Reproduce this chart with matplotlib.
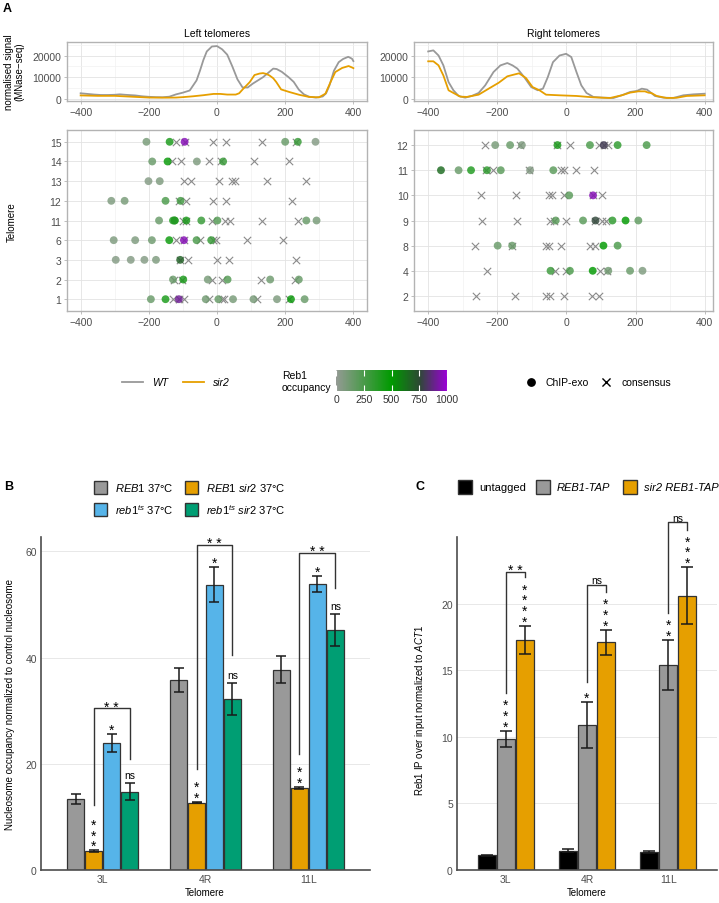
import matplotlib
matplotlib.use('Agg')
import matplotlib.pyplot as plt
import numpy as np
from matplotlib.colors import LinearSegmentedColormap, Normalize
from matplotlib.patches import Rectangle
import matplotlib.cm as cm

plt.rcParams['font.family'] = ['Liberation Sans', 'DejaVu Sans']
plt.rcParams['mathtext.fontset'] = 'custom'
plt.rcParams['mathtext.it'] = 'Liberation Sans:italic'
plt.rcParams['mathtext.rm'] = 'Liberation Sans'
plt.rcParams['mathtext.bf'] = 'Liberation Sans:bold'

# ---------------- DATA ----------------
# Panel A, MNase-seq profiles
left_wt_x = [-400, -380, -360, -340, -320, -300, -285, -270, -240, -220, -200, -180, -160, -140, -120, -100, -80,
             -60, -50, -40, -30, -15, 0, 15, 30, 45, 60, 75, 90, 105, 120, 135, 150, 165, 175, 190, 210, 225,
             240, 255, 270, 290, 310, 320, 330, 343, 357, 370, 385, 396, 400]
left_wt_y = [2500, 2200, 1900, 1700, 1700, 1800, 2000, 1800, 1500, 1100, 850, 700, 650, 900, 2000, 2800, 3800,
             8500, 13000, 18000, 22000, 24300, 24500, 23000, 20500, 15000, 9000, 5200, 5200, 7000, 8500, 10000,
             12000, 14000, 13800, 12500, 10000, 7800, 4200, 2000, 900, 500, 1000, 2500, 6200, 13000, 17000,
             18500, 19500, 18600, 17500]
left_sir2_x = [-400, -350, -300, -250, -200, -150, -120, -100, -70, -40, -10, 10, 30, 55, 65, 77, 96, 110, 125,
               135, 145, 154, 165, 174, 188, 212, 241, 270, 299, 318, 333, 347, 367, 386, 398, 400]
left_sir2_y = [1500, 1300, 1300, 900, 500, 450, 500, 700, 1100, 1600, 2200, 2200, 1900, 1900, 2500, 4600, 7700,
               11000, 11700, 11900, 11500, 10800, 9500, 7700, 4300, 3100, 1800, 800, 600, 2300, 7700, 12400,
               14300, 15200, 14400, 14200]
right_wt_x = [-400, -385, -370, -356, -341, -327, -312, -293, -274, -254, -235, -211, -191, -171, -156, -142,
              -122, -102, -83, -68, -54, -39, -20, -1, 14, 29, 43, 58, 78, 107, 136, 165, 184, 204, 218, 233,
              242, 256, 280, 309, 338, 367, 400]
right_wt_y = [22000, 22500, 20100, 15500, 7700, 3900, 1250, 460, 1250, 2650, 6200, 12400, 15500, 16600, 15500,
              14000, 10000, 5400, 3900, 4650, 10000, 17000, 20100, 20900, 19400, 12400, 6200, 2650, 780, 460,
              300, 1850, 3100, 3600, 4650, 4200, 3100, 1250, 460, 300, 1550, 2000, 2300]
right_sir2_x = [-400, -385, -370, -356, -341, -327, -307, -288, -254, -225, -196, -171, -152, -137, -117, -98,
                -78, -59, -20, 29, 78, 126, 160, 184, 208, 227, 237, 246, 261, 290, 319, 348, 400]
right_sir2_y = [17400, 17400, 15500, 10800, 3900, 2650, 930, 800, 1850, 4650, 7400, 10400, 11200, 11800, 9600,
                5400, 3900, 1850, 1550, 1250, 600, 300, 1550, 2800, 3400, 3400, 2800, 2600, 1250, 300, 400, 1250,
                1550]

# Panel A, Reb1 sites (left telomeres)
left_rows = ['1', '2', '3', '6', '11', '12', '13', '14', '15']
left_chip_tel = (['15'] * 6 + ['14'] * 4 + ['13'] * 2 + ['12'] * 4 + ['11'] * 9 + ['6'] * 7 + ['3'] * 5 +
                 ['2'] * 6 + ['1'] * 10)
left_chip_pos = [-207, -139, -95, 200, 237, 289,
                 -190, -145, -59, 18,
                 -201, -168,
                 -310, -271, -151, -107,
                 -170, -129, -124, -90, -46, 1, 262, 292, -124,
                 -303, -240, -191, -140, -97, -60, -17,
                 -297, -253, -213, -179, -108,
                 -129, -99, -27, 31, 156, 240,
                 -194, -151, -112, -33, 4, 47, 107, 176, 217, 257]
left_chip_occ = [100, 420, 950, 150, 320, 60,
                 150, 480, 80, 320,
                 60, 80,
                 80, 100, 250, 280,
                 150, 400, 380, 420, 320, 220, 150, 100, 380,
                 80, 80, 130, 470, 950, 250, 320,
                 60, 60, 60, 80, 680,
                 150, 420, 100, 220, 130, 160,
                 150, 420, 900, 120, 160, 100, 100, 80, 470, 150]
left_cons_tel = (['15'] * 6 + ['14'] * 6 + ['13'] * 7 + ['12'] * 5 + ['11'] * 7 + ['6'] * 7 + ['3'] * 5 +
                 ['2'] * 6 + ['1'] * 8)
left_cons_pos = [-120, -95, -13, 26, 131, 231,
                 -131, -107, -22, 12, 108, 210,
                 -98, -76, 6, 44, 54, 147, 260,
                 -112, -90, -13, 26, 221,
                 -100, -90, -14, 24, 38, 132, 238,
                 -120, -97, -49, -11, -3, 88, 194,
                 -108, -85, -1, 35, 231,
                 -126, -102, -14, 16, 128, 229,
                 -128, -112, -96, -23, 14, 20, 118, 212]

# Panel A, Reb1 sites (right telomeres)
right_rows = ['2', '4', '8', '9', '10', '11', '12']
right_chip_tel = ['12'] * 8 + ['11'] * 7 + ['10'] * 2 + ['9'] * 6 + ['8'] * 4 + ['4'] * 6
right_chip_pos = [-206, -163, -129, -26, 68, 108, 148, 232,
                  -363, -312, -276, -230, -190, -105, -38,
                  8, 77,
                  -31, 48, 84, 133, 171, 208,
                  -199, -157, 107, 148,
                  -46, 10, 76, 121, 184, 220]
right_chip_occ = [100, 150, 80, 420, 250, 800, 350, 250,
                  650, 150, 400, 350, 200, 60, 200,
                  200, 950,
                  200, 200, 760, 350, 500, 180,
                  150, 150, 500, 250,
                  300, 250, 500, 120, 150, 80]
right_cons_tel = ['12'] * 7 + ['11'] * 7 + ['10'] * 7 + ['9'] * 8 + ['8'] * 7 + ['4'] * 5 + ['2'] * 7
right_cons_pos = [-236, -133, -26, 10, 95, 108, 120,
                  -232, -213, -108, -16, -7, 29, 80,
                  -247, -145, -51, -41, -8, 77, 102,
                  -245, -142, -48, -36, 0, 84, 102, 114,
                  -264, -157, -60, -50, -15, 68, 82,
                  -230, -32, 0, 97, 116,
                  -261, -150, -58, -48, -8, 75, 95]

# Panel B
telomeres = ['3L', '4R', '11L']
b_labels = [r'$\mathit{REB1}$ 37°C', r'$\mathit{REB1\ sir2}$ 37°C',
            r'$\mathit{reb1}^{\mathit{ts}}$ 37°C', r'$\mathit{reb1}^{\mathit{ts}}\ \mathit{sir2}$ 37°C']
b_colors = ['#999999', '#E69F00', '#56B4E9', '#009E73']
b_vals = [[13.4, 35.8, 37.7], [3.6, 12.7, 15.5], [24.0, 53.7, 53.9], [14.7, 32.2, 45.2]]
b_errs = [[0.9, 2.2, 2.5], [0.15, 0.15, 0.2], [1.7, 3.3, 1.5], [1.6, 3.0, 3.0]]
b_stars = [[0, 0, 0], [3, 2, 2], [1, 1, 1], ['ns', 'ns', 'ns']]
b_brackets = [(30.5, 12.2, 20.9, '* *'), (61.2, 19.0, 40.5, '* *'), (59.7, 21.8, 53.1, '* *')]

# Panel C
c_labels = ['untagged', 'REB1-TAP', 'sir2 REB1-TAP']
c_colors = ['#000000', '#999999', '#E69F00']
c_vals = [[1.1, 1.45, 1.35], [9.83, 10.9, 15.4], [17.3, 17.1, 20.6]]
c_errs = [[0.05, 0.1, 0.07], [0.63, 1.75, 1.9], [1.05, 0.95, 2.15]]
c_stars = [[0, 0, 0], [3, 1, 2], [4, 3, 3]]
c_brackets = [(22.4, 13.3, 22.0, '* *'), (21.4, 14.1, 20.9, 'ns'), (26.1, 19.3, 25.5, 'ns')]

# ---------------- FIGURE ----------------
W, H = 719, 904
fig = plt.figure(figsize=(W / 100, H / 100), dpi=100)
PX = 72 / 100.0  # points per pixel


def rect(x0, y0, x1, y1):
    return [x0 / W, 1 - y1 / H, (x1 - x0) / W, (y1 - y0) / H]


ov = fig.add_axes([0, 0, 1, 1])
ov.set_xlim(0, W)
ov.set_ylim(H, 0)
ov.axis('off')
ov.patch.set_alpha(0)

TICKC = '#4d4d4d'
cmap = LinearSegmentedColormap.from_list('reb1', [(0, '#949a94'), (0.5, '#009a00'), (0.75, '#2c4a33'),
                                                  (1.0, '#9b00d6')])
norm = Normalize(0, 1000)


def style_light(ax):
    for s in ax.spines.values():
        s.set_color('#b3b3b3')
        s.set_linewidth(1.0)
    ax.set_axisbelow(True)
    ax.tick_params(which='major', colors='#b3b3b3', labelcolor=TICKC, labelsize=7.5, length=2.5, width=0.6,
                   pad=1.5)
    ax.tick_params(which='minor', length=0)


def line_panel(rc, xs_wt, ys_wt, xs_s, ys_s, title, xlim):
    ax = fig.add_axes(rect(*rc))
    ax.plot(xs_wt, ys_wt, color='#999999', lw=1.3, zorder=3)
    ax.plot(xs_s, ys_s, color='#E69F00', lw=1.3, zorder=3)
    ax.set_xlim(*xlim)
    ax.set_ylim(-1100, 26400)
    ax.set_xticks([-400, -200, 0, 200, 400])
    ax.set_xticks([-300, -100, 100, 300], minor=True)
    ax.set_yticks([0, 10000, 20000])
    ax.set_yticks([5000, 15000, 25000], minor=True)
    ax.grid(True, which='major', color='#e3e3e3', lw=0.6)
    ax.grid(True, which='minor', color='#f2f2f2', lw=0.5)
    style_light(ax)
    ax.set_title(title, fontsize=7.5, pad=4)
    return ax


line_panel((67, 43, 367, 102), left_wt_x, left_wt_y, left_sir2_x, left_sir2_y, 'Left telomeres', (-440, 440))
line_panel((414, 43, 713, 102), right_wt_x, right_wt_y, right_sir2_x, right_sir2_y, 'Right telomeres',
           (-441, 424))


def dot_panel(rc, rows, ctel, cpos, chtel, chpos, chocc, xlim):
    ax = fig.add_axes(rect(*rc))
    idx = {r: i for i, r in enumerate(rows)}
    ax.scatter(cpos, [idx[t] for t in ctel], marker='x', s=28, color='#8a8a8a', linewidths=0.8, zorder=3)
    ax.scatter(chpos, [idx[t] for t in chtel], c=chocc, cmap=cmap, norm=norm, s=32, alpha=0.82,
               linewidths=0, zorder=4)
    ax.set_xlim(*xlim)
    ax.set_ylim(-0.6, len(rows) - 0.4)
    ax.set_yticks(range(len(rows)))
    ax.set_yticklabels(rows)
    ax.set_xticks([-400, -200, 0, 200, 400])
    ax.set_xticks([-300, -100, 100, 300], minor=True)
    ax.grid(True, which='major', color='#e3e3e3', lw=0.6)
    ax.grid(True, which='minor', axis='x', color='#f2f2f2', lw=0.5)
    style_light(ax)
    return ax


dot_panel((67, 131, 367, 312), left_rows, left_cons_tel, left_cons_pos, left_chip_tel, left_chip_pos,
          left_chip_occ, (-440, 440))
dot_panel((414, 131, 713, 312), right_rows, right_cons_tel, right_cons_pos, right_chip_tel, right_chip_pos,
          right_chip_occ, (-441, 424))

ov.text(14, 72, 'normalised signal\n(MNase\u2212seq)', rotation=90, ha='center', va='center', fontsize=7,
        linespacing=1.0)
ov.text(12, 222, 'Telomere', rotation=90, ha='center', va='center', fontsize=7)
ov.text(3, 9, 'A', fontweight='bold', fontsize=9, va='center')

# Legend row of panel A
ov.plot([122, 143], [383, 383], color='#999999', lw=1.3)
ov.text(152, 383, 'WT', style='italic', va='center', fontsize=7.5)
ov.plot([183, 204], [383, 383], color='#E69F00', lw=1.3)
ov.text(213, 383, 'sir2', style='italic', va='center', fontsize=7.5)
ov.text(282, 382, 'Reb1\noccupancy', va='center', fontsize=7.5, linespacing=1.15)
ov.scatter([531], [383], s=28, color='black')
ov.text(546, 383, 'ChIP-exo', va='center', fontsize=7.5)
ov.scatter([606], [383], marker='x', s=34, color='black', linewidths=1.0)
ov.text(621, 383, 'consensus', va='center', fontsize=7.5)

cax = fig.add_axes(rect(336, 371, 447, 392))
sm = cm.ScalarMappable(norm=norm, cmap=cmap)
cb = fig.colorbar(sm, cax=cax, orientation='horizontal', ticks=[0, 250, 500, 750, 1000])
cb.outline.set_visible(False)
cax.tick_params(direction='in', color='white', length=4, width=0.8, labelsize=7.5, labelcolor='#333333',
                pad=2, top=True, bottom=True, labeltop=False)


# ---------------- Panels B and C ----------------
def style_bar(ax):
    for s in ['top', 'right']:
        ax.spines[s].set_visible(False)
    for s in ['left', 'bottom']:
        ax.spines[s].set_color('#4d4d4d')
        ax.spines[s].set_linewidth(1.2)
    ax.yaxis.grid(True, color='#e8e8e8', lw=0.7)
    ax.set_axisbelow(True)
    ax.tick_params(length=0, labelsize=7.5, labelcolor=TICKC, pad=3)


STAR_FS = 10


def stars(ax, x, ybase, mark):
    if mark == 0:
        return
    if mark == 'ns':
        ax.annotate('ns', (x, ybase), xytext=(0, 5.5 * PX), textcoords='offset points', ha='center',
                    va='baseline', fontsize=7.5, annotation_clip=False)
        return
    ax.annotate('\n'.join(['*'] * mark), (x, ybase), xytext=(0, -2.9 * PX), textcoords='offset points',
                ha='center', va='bottom', fontsize=STAR_FS, linespacing=0.70, annotation_clip=False)


def bracket(ax, x1, x2, ytop, yb1, yb2, label):
    ax.plot([x1, x1, x2, x2], [yb1, ytop, ytop, yb2], color='#333333', lw=1.0, clip_on=False, zorder=5)
    if label == 'ns':
        off, fs = 1.5, 7.5
    else:
        off, fs = -2.5, STAR_FS
    ax.annotate(label, ((x1 + x2) / 2, ytop), xytext=(0, off * PX), textcoords='offset points', ha='center',
                va='baseline', fontsize=fs, annotation_clip=False)


xg = np.arange(1, 4)

axB = fig.add_axes(rect(41, 538, 370, 871))
b_off = [-0.2625, -0.0875, 0.0875, 0.2625]
for i in range(4):
    axB.bar(xg + b_off[i], b_vals[i], width=0.165, color=b_colors[i], edgecolor='#333333', linewidth=0.9,
            zorder=2)
    axB.errorbar(xg + b_off[i], b_vals[i], yerr=b_errs[i], fmt='none', ecolor='#1a1a1a', elinewidth=1.1,
                 capsize=3.6, capthick=1.1, zorder=3)
    for j in range(3):
        stars(axB, xg[j] + b_off[i], b_vals[i][j] + b_errs[i][j], b_stars[i][j])
for j in range(3):
    yt, yl, yr, lab = b_brackets[j]
    bracket(axB, xg[j] + b_off[1], xg[j] + b_off[3], yt, yl, yr, lab)
axB.set_xlim(0.4, 3.6)
axB.set_ylim(0, 62.7)
axB.set_xticks(xg)
axB.set_xticklabels(telomeres)
axB.set_yticks([0, 20, 40, 60])
style_bar(axB)
ov.text(205, 893, 'Telomere', ha='center', va='center', fontsize=7)
ov.text(10, 705, 'Nucleosome occupancy normalized to control nucleosome', rotation=90, ha='center',
        va='center', fontsize=7)
ov.text(4, 487, 'B', fontweight='bold', fontsize=9, va='center')

# legend B
b_leg_pos = [(94, 488), (185, 488), (94, 510), (185, 510)]
for (lx, ly), lab, col in zip(b_leg_pos, b_labels, b_colors):
    ov.add_patch(Rectangle((lx, ly - 6.5), 13, 13, facecolor=col, edgecolor='#333333', lw=1.0))
    ov.text(lx + 21, ly, lab, va='center', fontsize=8)

axC = fig.add_axes(rect(457, 538, 717, 871))
c_off = [-0.233, 0.0, 0.233]
for i in range(3):
    axC.bar(xg + c_off[i], c_vals[i], width=0.22, color=c_colors[i], edgecolor='#333333', linewidth=0.9,
            zorder=2)
    axC.errorbar(xg + c_off[i], c_vals[i], yerr=c_errs[i], fmt='none', ecolor='#1a1a1a', elinewidth=1.1,
                 capsize=4.3, capthick=1.1, zorder=3)
    for j in range(3):
        stars(axC, xg[j] + c_off[i], c_vals[i][j] + c_errs[i][j], c_stars[i][j])
for j in range(3):
    yt, yl, yr, lab = c_brackets[j]
    bracket(axC, xg[j] + c_off[1], xg[j] + c_off[2], yt, yl, yr, lab)
axC.set_xlim(0.4, 3.6)
axC.set_ylim(0, 25)
axC.set_xticks(xg)
axC.set_xticklabels(telomeres)
axC.set_yticks([0, 5, 10, 15, 20])
style_bar(axC)
ov.text(587, 893, 'Telomere', ha='center', va='center', fontsize=7)
ov.text(420, 710, r'Reb1 IP over input normalized to $\mathit{ACT1}$', rotation=90, ha='center',
        va='center', fontsize=7)
ov.text(415, 487, 'C', fontweight='bold', fontsize=9, va='center')

c_leg_x = [458, 536, 623]
for lx, lab, col, it in zip(c_leg_x, c_labels, c_colors, [False, True, True]):
    ov.add_patch(Rectangle((lx, 481), 14, 14, facecolor=col, edgecolor='#333333', lw=1.0))
    ov.text(lx + 21, 488, lab, va='center', fontsize=8, style='italic' if it else 'normal')

fig.savefig('out.png', dpi=100)
